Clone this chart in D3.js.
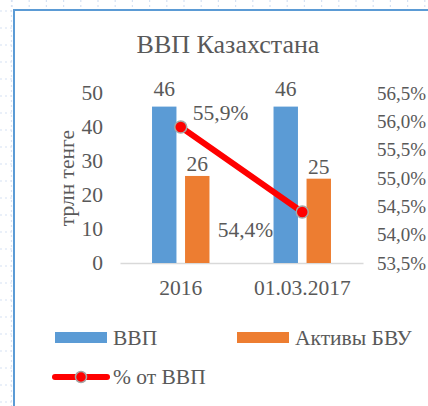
<!DOCTYPE html>
<html lang="ru">
<head>
  <meta charset="UTF-8">
  <title>ВВП Казахстана</title>
  <script src="https://d3js.org/d3.v7.min.js"></script>
  <style>
    body { margin: 0; background: #fff; }
  </style>
</head>
<body>
<script>
// data
var categories = ["2016", "01.03.2017"];
var seriesNames = ["ВВП", "Активы БВУ"];
var gdp = [46, 46];
var bankAssets = [25.6, 24.8];
var pctOfGdp = [0.559, 0.544];
var leftTicks = [0, 10, 20, 30, 40, 50];
var rightTicks = [0.535, 0.54, 0.545, 0.55, 0.555, 0.56, 0.565];

var W = 428, H = 406;
var FONT = "'Liberation Serif', 'Times New Roman', 'DejaVu Serif', serif";
var FS = "21.5px";
var colors = ["#5B9BD5", "#ED7D31"];
var margin = {left: 120, right: 65, top: 93, bottom: 143};

var svg = d3.select("body").append("svg")
    .attr("width", W)
    .attr("height", H);

// worksheet gridlines behind the chart
var grid = svg.append("g").attr("stroke", "#d6e2f3").attr("stroke-width", 1.2).attr("stroke-dasharray", "2,3");
d3.range(12, W, 17.2).forEach(function(x) {
  grid.append("line").attr("x1", x).attr("x2", x).attr("y1", 0).attr("y2", 9);
});
d3.range(11, H, 17).forEach(function(y) {
  grid.append("line").attr("x1", 0).attr("x2", 12).attr("y1", y).attr("y2", y);
});
grid.append("line").attr("x1", 11.5).attr("x2", 11.5).attr("y1", 0).attr("y2", H);

// chart frame
svg.append("rect")
    .attr("x", 14).attr("y", 10)
    .attr("width", W + 20).attr("height", H + 20)
    .attr("fill", "#fff")
    .attr("stroke", "#5B9BD5")
    .attr("stroke-width", 2);

var x0 = d3.scaleBand()
    .domain(categories)
    .range([margin.left, W - margin.right]);

var x1 = d3.scaleBand()
    .domain(seriesNames)
    .range([0, x0.bandwidth()])
    .paddingInner(0.26)
    .paddingOuter(0.97);

var yL = d3.scaleLinear().domain([0, 50]).range([H - margin.bottom, margin.top]);
var yR = d3.scaleLinear().domain([0.535, 0.565]).range([H - margin.bottom, margin.top]);

var g = svg.append("g");

// title
svg.append("text")
    .attr("x", 228).attr("y", 53)
    .attr("text-anchor", "middle")
    .style("font-size", "26px")
    .text("ВВП Казахстана");

// left axis
var leftAxis = g.append("g")
    .attr("transform", "translate(" + (margin.left - 17) + ",0)")
    .call(d3.axisLeft(yL).tickValues(leftTicks).tickSize(0).tickPadding(0));
leftAxis.select(".domain").remove();
leftAxis.selectAll("text").style("font-size", FS);

// right axis
var pct = d3.format(".1%");
var rightAxis = g.append("g")
    .attr("transform", "translate(" + (W - margin.right + 14) + ",0)")
    .call(d3.axisRight(yR).tickValues(rightTicks).tickSize(0).tickPadding(0)
      .tickFormat(function(d) { return pct(d).replace(".", ","); }));
rightAxis.select(".domain").remove();
rightAxis.selectAll("text").style("font-size", "19px");

// bottom axis
var bottomAxis = g.append("g")
    .attr("transform", "translate(0," + (H - margin.bottom) + ")")
    .call(d3.axisBottom(x0).tickSize(0).tickPadding(17));
bottomAxis.select(".domain").attr("stroke", "#D9D9D9").attr("stroke-width", 1.5);
bottomAxis.selectAll("text").style("font-size", FS);

// axis title
svg.append("text")
    .attr("transform", "translate(74," + ((H - margin.bottom + margin.top) / 2) + ") rotate(-90)")
    .attr("text-anchor", "middle")
    .style("font-size", FS)
    .text("трлн тенге");

// bars
var table = categories.map(function(c, i) {
  return {cat: c, vals: [gdp[i], bankAssets[i]]};
});
var groups = g.selectAll(".grp").data(table).enter().append("g")
    .attr("transform", function(d) { return "translate(" + x0(d.cat) + ",0)"; });
groups.selectAll("rect").data(function(d) {
  return d.vals.map(function(v, j) { return {name: seriesNames[j], v: v, j: j}; });
}).enter().append("rect")
    .attr("x", function(d) { return x1(d.name); })
    .attr("width", x1.bandwidth())
    .attr("y", function(d) { return yL(d.v); })
    .attr("height", function(d) { return yL(0) - yL(d.v); })
    .attr("fill", function(d) { return colors[d.j]; });
var barLblGap = [11, 5];
groups.selectAll(".lbl").data(function(d) {
  return d.vals.map(function(v, j) { return {name: seriesNames[j], v: v, j: j}; });
}).enter().append("text")
    .attr("x", function(d) { return x1(d.name) + x1.bandwidth() / 2; })
    .attr("y", function(d) { return yL(d.v) - barLblGap[d.j]; })
    .attr("text-anchor", "middle")
    .style("font-size", FS)
    .text(function(d) { return d3.format(".0f")(d.v); });

// line series
var pts = categories.map(function(c, i) {
  return [x0(c) + x0.bandwidth() / 2, yR(pctOfGdp[i])];
});
g.append("path")
    .attr("d", d3.line()(pts))
    .attr("fill", "none")
    .attr("stroke", "#FF0000")
    .attr("stroke-width", 6)
    .attr("stroke-linecap", "round");
g.selectAll(".dot").data(pts).enter().append("circle")
    .attr("cx", function(d) { return d[0]; })
    .attr("cy", function(d) { return d[1]; })
    .attr("r", 6)
    .attr("fill", "#FF0000")
    .attr("stroke", "#A6A6A6")
    .attr("stroke-width", 1.5);
var lblOff = [[12, -7, "start"], [-29, 25, "end"]];
g.selectAll(".plbl").data(pts).enter().append("text")
    .attr("x", function(d, i) { return d[0] + lblOff[i][0]; })
    .attr("y", function(d, i) { return d[1] + lblOff[i][1]; })
    .attr("text-anchor", function(d, i) { return lblOff[i][2]; })
    .style("font-size", FS)
    .text(function(d, i) { return pct(pctOfGdp[i]).replace(".", ","); });

// legend
var leg = svg.append("g");
var legX = [55, 237];
seriesNames.forEach(function(n, i) {
  leg.append("rect").attr("x", legX[i]).attr("y", 332).attr("width", 52).attr("height", 11).attr("fill", colors[i]);
  leg.append("text").attr("x", legX[i] + 58).attr("y", 345).style("font-size", FS).text(n);
});
leg.append("line").attr("x1", 55).attr("x2", 107).attr("y1", 377).attr("y2", 377)
    .attr("stroke", "#FF0000").attr("stroke-width", 6).attr("stroke-linecap", "round");
leg.append("circle").attr("cx", 81).attr("cy", 377).attr("r", 5.5)
    .attr("fill", "#FF0000").attr("stroke", "#A6A6A6").attr("stroke-width", 1.5);
leg.append("text").attr("x", 113).attr("y", 384).style("font-size", FS).text("% от ВВП");

// common text style (set last so it overrides the axis defaults)
svg.selectAll("text")
    .attr("font-family", FONT)
    .style("font-family", FONT)
    .attr("fill", "#595959");
</script>
</body>
</html>
